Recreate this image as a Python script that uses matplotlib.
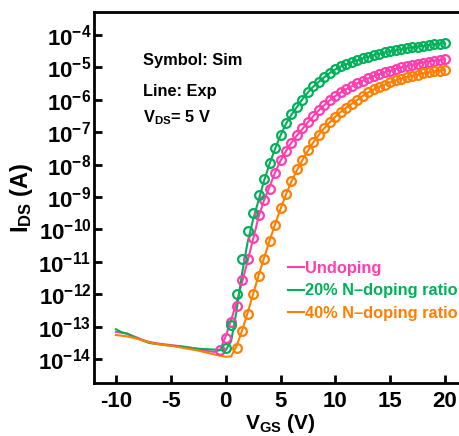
import numpy as np
import matplotlib
matplotlib.use('Agg')
import matplotlib.pyplot as plt
from matplotlib.ticker import NullLocator, FuncFormatter

plt.rcParams['font.family'] = ['Liberation Sans', 'DejaVu Sans']
plt.rcParams['font.weight'] = 'bold'
plt.rcParams['mathtext.fontset'] = 'custom'
plt.rcParams['mathtext.rm'] = 'Liberation Sans:bold'
plt.rcParams['mathtext.bf'] = 'Liberation Sans:bold'
plt.rcParams['mathtext.it'] = 'Liberation Sans:bold'
plt.rcParams['axes.unicode_minus'] = False

# gate voltage grids (V)
vgs_exp = np.arange(-10, 20.01, 0.5)
vgs_sim_undoped = np.arange(-0.5, 20.01, 0.5)
vgs_sim_n20 = np.arange(0.0, 20.01, 0.5)
vgs_sim_n40 = np.arange(1.0, 20.01, 0.5)

x_ticks = [-10, -5, 0, 5, 10, 15, 20]
y_decades = list(range(-14, -3))

# log10(I_DS / A), experiment (lines)
log_exp_undoped = [
    -13.16, -13.19, -13.21, -13.28, -13.35, -13.42, -13.47, -13.50, -13.53, -13.55,
    -13.57, -13.59, -13.61, -13.63, -13.67, -13.70, -13.73, -13.76, -13.78, -13.72,
    -13.30, -12.80, -12.25, -11.62, -10.98, -10.30, -9.62, -9.10, -8.68, -8.25,
    -7.88, -7.58, -7.32, -7.10, -6.90, -6.69, -6.50, -6.32, -6.16, -6.01,
    -5.88, -5.77, -5.67, -5.58, -5.49, -5.41, -5.34, -5.27, -5.21, -5.15,
    -5.10, -5.05, -5.00, -4.96, -4.92, -4.88, -4.85, -4.82, -4.79, -4.77, -4.75]
log_exp_n20 = [
    -13.08, -13.17, -13.22, -13.30, -13.37, -13.44, -13.50, -13.53, -13.55, -13.57,
    -13.59, -13.60, -13.62, -13.64, -13.66, -13.68, -13.69, -13.70, -13.71, -13.72,
    -13.73, -13.45, -12.50, -11.35, -10.40, -9.70, -9.10, -8.50, -7.98, -7.52,
    -7.10, -6.74, -6.46, -6.22, -5.98, -5.77, -5.59, -5.44, -5.30, -5.17,
    -5.06, -4.97, -4.90, -4.84, -4.78, -4.72, -4.67, -4.62, -4.58, -4.54,
    -4.50, -4.47, -4.44, -4.41, -4.38, -4.36, -4.34, -4.31, -4.29, -4.27, -4.26]
log_exp_n40 = [
    -13.26, -13.28, -13.30, -13.34, -13.38, -13.43, -13.48, -13.52, -13.55, -13.57,
    -13.59, -13.62, -13.65, -13.68, -13.71, -13.74, -13.78, -13.82, -13.86, -13.90,
    -13.93, -13.92, -13.60, -13.12, -12.58, -12.00, -11.42, -10.88, -10.35, -9.85,
    -9.37, -8.92, -8.52, -8.17, -7.86, -7.57, -7.31, -7.08, -6.87, -6.69,
    -6.52, -6.37, -6.24, -6.12, -6.00, -5.88, -5.77, -5.68, -5.60, -5.53,
    -5.46, -5.40, -5.35, -5.30, -5.26, -5.22, -5.18, -5.15, -5.12, -5.10, -5.08]

# log10(I_DS / A), simulation (symbols)
log_sim_undoped = [
    -13.72, -13.36, -12.85, -12.35, -11.55, -10.92, -10.25, -9.55, -9.10, -8.75,
    -8.27, -7.87, -7.58, -7.32, -7.10, -6.88, -6.67, -6.49, -6.32, -6.15,
    -6.00, -5.87, -5.76, -5.66, -5.57, -5.49, -5.41, -5.34, -5.27, -5.21,
    -5.15, -5.10, -5.05, -5.00, -4.96, -4.92, -4.88, -4.85, -4.82, -4.79,
    -4.76, -4.74]
log_sim_n20 = [
    -13.65, -12.95, -12.00, -10.90, -10.05, -9.50, -8.95, -8.45, -7.95, -7.50,
    -7.10, -6.72, -6.45, -6.22, -6.00, -5.75, -5.58, -5.44, -5.30, -5.17,
    -5.06, -4.97, -4.90, -4.84, -4.78, -4.72, -4.67, -4.62, -4.58, -4.53,
    -4.49, -4.46, -4.43, -4.41, -4.38, -4.36, -4.33, -4.31, -4.29, -4.27,
    -4.25]
log_sim_n40 = [
    -13.65, -13.15, -12.60, -12.00, -11.45, -10.90, -10.35, -9.85, -9.35, -8.90,
    -8.50, -8.15, -7.85, -7.55, -7.30, -7.08, -6.87, -6.68, -6.52, -6.37,
    -6.24, -6.12, -6.00, -5.89, -5.77, -5.68, -5.60, -5.53, -5.46, -5.40,
    -5.35, -5.30, -5.26, -5.22, -5.18, -5.15, -5.12, -5.10, -5.07]

labels = ['Undoping', '20% N\u2013doping ratio', '40% N\u2013doping ratio']
colors = ['#FF3DAF', '#00B15A', '#FF7F00']

fig = plt.figure(figsize=(4.59, 4.36), dpi=100)
ax = fig.add_axes([94 / 459, 53 / 436, 373 / 459, 371 / 436])

series = [
    (log_exp_undoped, vgs_sim_undoped, log_sim_undoped),
    (log_exp_n20, vgs_sim_n20, log_sim_n20),
    (log_exp_n40, vgs_sim_n40, log_sim_n40),
]
handles = []
for (exp, vs, sim), lab, c in zip(series, labels, colors):
    h, = ax.plot(vgs_exp, 10.0 ** np.array(exp), color=c, lw=1.5, label=lab, zorder=2)
    ax.plot(vs, 10.0 ** np.array(sim), 'o', ms=6.3, mfc='none', mec=c, mew=1.6, zorder=3)
    handles.append(h)

ax.set_yscale('log')
ax.set_xlim(-12, 22)
ax.set_ylim(10 ** -14.74, 10 ** -3.29)
ax.set_xticks(x_ticks)
ax.set_yticks([10.0 ** d for d in y_decades])
ax.yaxis.set_minor_locator(NullLocator())
ax.yaxis.set_major_formatter(FuncFormatter(lambda v, p: r'$\mathrm{10^{%d}}$' % round(np.log10(v))))

for s in ax.spines.values():
    s.set_linewidth(2)
ax.spines['right'].set_visible(False)
ax.tick_params(direction='in', length=6, width=2, labelsize=16, top=False, right=False)
ax.tick_params(axis='y', pad=2)
ax.tick_params(axis='x', pad=6)
for t in ax.get_xticklabels() + ax.get_yticklabels():
    t.set_fontweight('bold')

ax.set_xlabel(r'$\mathrm{V_{GS}}$ (V)', fontsize=15, fontweight='bold', labelpad=0)
ax.set_ylabel(r'$\mathrm{I_{DS}}$ (A)', fontsize=17, fontweight='bold', labelpad=2)

ax.text(-7.5, 10 ** -4.8, 'Symbol: Sim', fontsize=11.8, fontweight='bold', va='center')
ax.text(-7.5, 10 ** -5.73, 'Line: Exp', fontsize=11.8, fontweight='bold', va='center')
ax.text(-7.5, 10 ** -6.56, r'$\mathrm{V_{DS}}$= 5 V', fontsize=11.8, fontweight='bold', va='center')

leg = ax.legend(handles=handles, loc='upper left', bbox_to_anchor=(288 / 459, 1 - 261 / 436),
                bbox_transform=fig.transFigure, frameon=False,
                handlelength=1.0, handletextpad=0.05, labelspacing=0.45, borderpad=0,
                borderaxespad=0, labelcolor='linecolor', prop={'weight': 'bold', 'size': 11.8})

fig.savefig('out.png', dpi=100)
